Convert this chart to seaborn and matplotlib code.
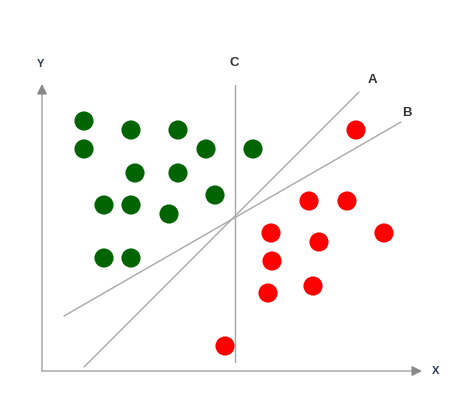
import pandas as pd
import matplotlib.pyplot as plt
import seaborn as sns

# Puntos (origen en la esquina de los ejes, y hacia arriba)
verde_x = [42, 89, 136, 42, 164, 211, 93, 136, 62, 89, 127, 173, 62, 89]
verde_y = [250, 241, 241, 222, 222, 222, 198, 198, 166, 166, 157, 176, 113, 113]
rojo_x = [314, 267, 305, 229, 277, 342, 230, 226, 271, 183]
rojo_y = [241, 170, 170, 138, 129, 138, 110, 78, 85, 25]

# Rectas separadoras: (x0, y0, x1, y1)
linea_a = [42, 4, 317, 279]
linea_b = [22, 55, 359, 249]
linea_c = [193, 9, 193, 286]
etiquetas = {"A": (330, 291), "B": (365, 258), "C": (192, 308)}

df = pd.DataFrame({
    "x": verde_x + rojo_x,
    "y": verde_y + rojo_y,
    "clase": ["verde"] * len(verde_x) + ["rojo"] * len(rojo_x),
})

sns.set_style("white")
fig = plt.figure(figsize=(4.58, 4.0), dpi=100)
ax = fig.add_axes([0, 0, 1, 1])
ax.set_xlim(-42, 416)
ax.set_ylim(-29, 371)
ax.axis("off")

# Ejes con flechas
ax.plot([0, 376], [0, 0], color="#b0b0b0", lw=1.2, zorder=1)
ax.plot([0, 0], [0, 283], color="#b0b0b0", lw=1.2, zorder=1)
ax.annotate("", xy=(380, 0), xytext=(372, 0),
            arrowprops=dict(arrowstyle="-|>,head_length=0.6,head_width=0.3",
                            color="#888888", lw=1.0, shrinkA=0, shrinkB=0))
ax.annotate("", xy=(0, 287), xytext=(0, 279),
            arrowprops=dict(arrowstyle="-|>,head_length=0.6,head_width=0.3",
                            color="#888888", lw=1.0, shrinkA=0, shrinkB=0))
ax.text(394, 0, "X", fontsize=8, fontweight="bold", color="#2b3a55",
        ha="center", va="center", family="Liberation Sans")
ax.text(-1, 307, "Y", fontsize=8, fontweight="bold", color="#2b3a55",
        ha="center", va="center", family="Liberation Sans")

for ln in (linea_a, linea_b, linea_c):
    ax.plot([ln[0], ln[2]], [ln[1], ln[3]], color="#a8a8a8", lw=1.0, zorder=1)
for k, (tx, ty) in etiquetas.items():
    ax.text(tx, ty, k, fontsize=9.5, fontweight="bold", color="#333333",
            ha="center", va="center", family="Liberation Sans")

sns.scatterplot(data=df, x="x", y="y", hue="clase",
                palette={"verde": "#006400", "rojo": "#ff0000"},
                s=190, linewidth=0, legend=False, ax=ax, zorder=3)

fig.savefig("out.png", dpi=100)
